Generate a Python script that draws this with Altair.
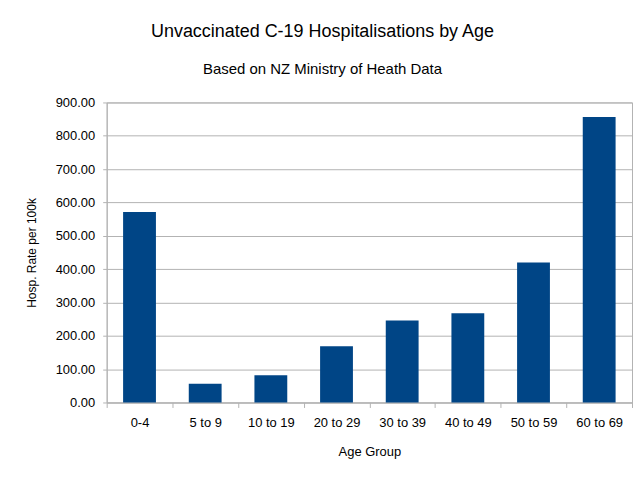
import altair as alt
import pandas as pd

age_groups = ["0-4", "5 to 9", "10 to 19", "20 to 29", "30 to 39", "40 to 49", "50 to 59", "60 to 69"]
rates = [571, 56, 82, 169, 246, 268, 420, 856]

df = pd.DataFrame({"Age Group": age_groups, "Rate": rates})

FONT = "Liberation Sans"
GRID = "#b3b3b3"

chart = alt.Chart(df).mark_bar(color="#004586", width=alt.RelativeBandSize(0.5)).encode(
    x=alt.X("Age Group:N", sort=age_groups,
            scale=alt.Scale(paddingInner=0, paddingOuter=0),
            axis=alt.Axis(title="Age Group", labelAngle=0, tickBand="extent",
                          tickSize=5, labelPadding=9, titlePadding=16,
                          labelFontSize=13, titleFontSize=13, titleFontWeight="normal",
                          domainColor=GRID, tickColor=GRID,
                          labelColor="black", titleColor="black",
                          labelFont=FONT, titleFont=FONT)),
    y=alt.Y("Rate:Q",
            scale=alt.Scale(domain=[0, 900], nice=False),
            axis=alt.Axis(title="Hosp. Rate per 100k", format=".2f",
                          values=[0, 100, 200, 300, 400, 500, 600, 700, 800, 900],
                          tickSize=4, labelPadding=8, titlePadding=17,
                          labelFontSize=13, titleFontSize=12, titleFontWeight="normal",
                          domainColor=GRID, tickColor=GRID, gridColor=GRID,
                          labelColor="black", titleColor="black",
                          labelFont=FONT, titleFont=FONT)),
).properties(
    width=527,
    height=301,
    padding={"left": 99, "top": 94, "right": 2, "bottom": 70},
    autosize=alt.AutoSizeParams(type="none"),
    title=alt.TitleParams(
        text="Unvaccinated C-19 Hospitalisations by Age",
        subtitle="Based on NZ Ministry of Heath Data",
        font=FONT, subtitleFont=FONT,
        fontSize=18, subtitleFontSize=15,
        fontWeight="normal", color="black", subtitleColor="black",
        anchor="middle", dx=-47, offset=20, subtitlePadding=21,
    ),
).configure_view(
    stroke=GRID
).configure_axis(
    grid=False
).configure_axisY(
    grid=True
)

chart.save("out.html", embed_options={"renderer": "svg", "actions": False})
